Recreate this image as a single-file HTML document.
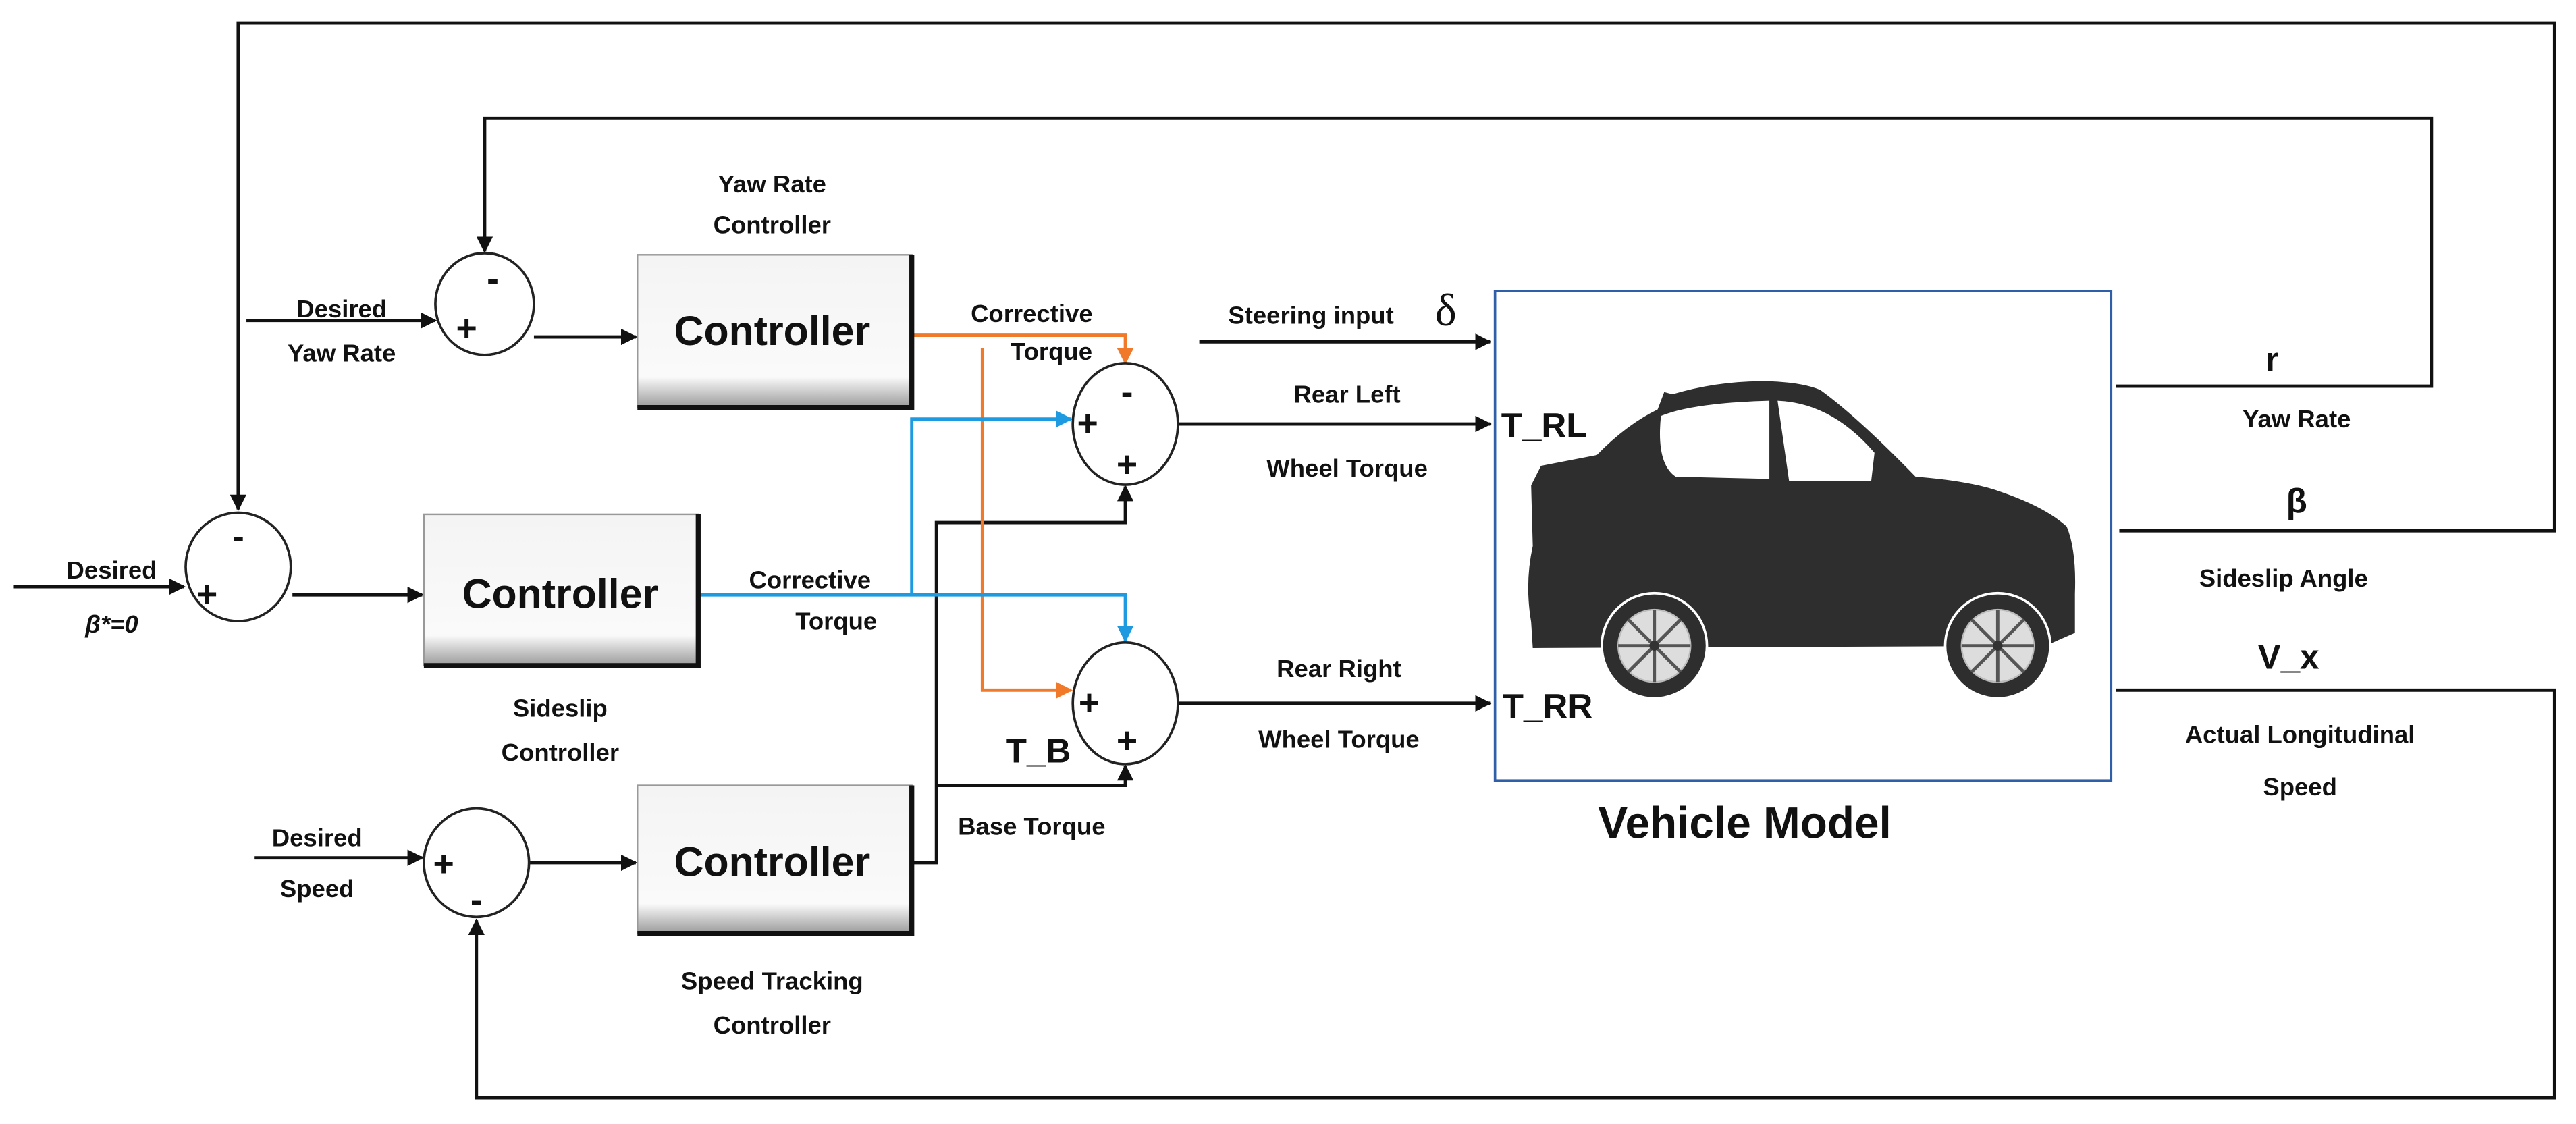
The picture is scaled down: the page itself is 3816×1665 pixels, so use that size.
<!DOCTYPE html>
<html><head><meta charset="utf-8"><style>
html,body{margin:0;padding:0;background:#fff;}
svg{display:block;}
text{font-family:"Liberation Sans",sans-serif;font-weight:bold;fill:#111;}
</style></head><body>
<svg width="3816" height="1665" viewBox="0 0 1568 684" preserveAspectRatio="none" xmlns="http://www.w3.org/2000/svg">
<defs>
<marker id="ak" markerWidth="10" markerHeight="10" refX="9" refY="5" orient="auto" markerUnits="userSpaceOnUse"><path d="M0,0 L10,5 L0,10 z" fill="#111"/></marker>
<marker id="ao" markerWidth="10" markerHeight="10" refX="9" refY="5" orient="auto" markerUnits="userSpaceOnUse"><path d="M0,0 L10,5 L0,10 z" fill="#f07a2a"/></marker>
<marker id="ab" markerWidth="10" markerHeight="10" refX="9" refY="5" orient="auto" markerUnits="userSpaceOnUse"><path d="M0,0 L10,5 L0,10 z" fill="#1e9be0"/></marker>
<linearGradient id="g" x1="0" y1="0" x2="0" y2="1"><stop offset="0" stop-color="#f4f4f4"/><stop offset="0.8" stop-color="#fafafa"/><stop offset="1" stop-color="#9a9a9a"/></linearGradient>
</defs>
<g fill="none" stroke="#111" stroke-width="2">
<polyline points="1290,323 1555,323 1555,14 145,14 145,310" marker-end="url(#ak)"/>
<polyline points="1288,235 1480,235 1480,72 295,72 295,153" marker-end="url(#ak)"/>
<polyline points="1288,420 1555,420 1555,668 290,668 290,560" marker-end="url(#ak)"/>
<line x1="150" y1="195" x2="265" y2="195" marker-end="url(#ak)"/>
<line x1="8" y1="357" x2="112" y2="357" marker-end="url(#ak)"/>
<line x1="155" y1="522" x2="257" y2="522" marker-end="url(#ak)"/>
<line x1="325" y1="205" x2="387" y2="205" marker-end="url(#ak)"/>
<line x1="178" y1="362" x2="257" y2="362" marker-end="url(#ak)"/>
<line x1="322" y1="525" x2="387" y2="525" marker-end="url(#ak)"/>
<polyline points="555,525 570,525 570,318 685,318 685,296" marker-end="url(#ak)"/>
<polyline points="570,478 685,478 685,466" marker-end="url(#ak)"/>
<line x1="717" y1="258" x2="907" y2="258" marker-end="url(#ak)"/>
<line x1="717" y1="428" x2="907" y2="428" marker-end="url(#ak)"/>
<line x1="730" y1="208" x2="907" y2="208" marker-end="url(#ak)"/>
</g>
<g fill="none" stroke="#f07a2a" stroke-width="2">
<polyline points="555,204 685,204 685,221" marker-end="url(#ao)"/>
<polyline points="598,212 598,420 652,420" marker-end="url(#ao)"/>
</g>
<g fill="none" stroke="#1e9be0" stroke-width="2">
<polyline points="425,362 685,362 685,390" marker-end="url(#ab)"/>
<polyline points="555,362 555,255 652,255" marker-end="url(#ab)"/>
</g>
<g fill="#fff" stroke="#222" stroke-width="1.5">
<ellipse cx="295" cy="185" rx="30" ry="31"/>
<ellipse cx="145" cy="345" rx="32" ry="33"/>
<ellipse cx="290" cy="525" rx="32" ry="33"/>
<ellipse cx="685" cy="258" rx="32" ry="37"/>
<ellipse cx="685" cy="428" rx="32" ry="37"/>
</g>
<g font-size="22" text-anchor="middle">
<text x="284" y="207">+</text><text x="300" y="177">-</text>
<text x="126" y="369">+</text><text x="145" y="334">-</text>
<text x="270" y="533">+</text><text x="290" y="555">-</text>
<text x="662" y="265">+</text><text x="686" y="246">-</text><text x="686" y="290">+</text>
<text x="663" y="435">+</text><text x="686" y="458">+</text>
</g>
<g>
<rect x="388" y="155" width="167" height="93" fill="url(#g)" stroke="#999" stroke-width="1"/>
<polyline points="555,155 555,248 388,248" fill="none" stroke="#111" stroke-width="3"/>
<rect x="258" y="313" width="167" height="92" fill="url(#g)" stroke="#999" stroke-width="1"/>
<polyline points="425,313 425,405 258,405" fill="none" stroke="#111" stroke-width="3"/>
<rect x="388" y="478" width="167" height="90" fill="url(#g)" stroke="#999" stroke-width="1"/>
<polyline points="555,478 555,568 388,568" fill="none" stroke="#111" stroke-width="3"/>
</g>
<g font-size="25" text-anchor="middle">
<text x="470" y="210">Controller</text>
<text x="341" y="370">Controller</text>
<text x="470" y="533">Controller</text>
</g>
<rect x="910" y="177" width="375" height="298" fill="#fff" stroke="#2e5fa8" stroke-width="1.5"/>
<g transform="translate(0,232) scale(1,1.32) translate(0,-252)">
<path fill="#2e2e2e" d="M938,291 L972,286 Q990,272 1009,265 L1013,257 L1018,258 Q1045,252 1072,252 Q1095,252 1108,256 Q1130,268 1166,296 Q1200,298 1218,303 Q1245,310 1258,319 Q1264,330 1263,350 L1263,368 L1245,374 L933,375 L932,363 Q928,345 933,328 L932,300 Z"/>
<path fill="#fff" d="M1011,268 Q1030,262 1077,261 L1077,297 L1020,296 Q1008,290 1011,268 Z"/>
<path fill="#fff" d="M1082,261 Q1115,262 1141,285 L1139,298 L1089,298 Z"/>
</g>
<g fill="#2e2e2e" stroke="#fff" stroke-width="1.5">
<circle cx="1007" cy="393" r="32"/>
<circle cx="1216" cy="393" r="32"/>
</g>
<g fill="#ddd" stroke="#bbb" stroke-width="1">
<circle cx="1007" cy="393" r="22"/>
<circle cx="1216" cy="393" r="22"/>
</g>
<g stroke="#555" stroke-width="2">
<path d="M1007,371 V415 M985,393 H1029 M991,377 L1023,409 M1023,377 L991,409"/>
<path d="M1216,371 V415 M1194,393 H1238 M1200,377 L1232,409 M1232,377 L1200,409"/>
</g>
<circle cx="1007" cy="393" r="3" fill="#333"/><circle cx="1216" cy="393" r="3" fill="#333"/>
<g font-size="15" text-anchor="middle">
<text x="470" y="117">Yaw Rate</text><text x="470" y="142">Controller</text>
<text x="208" y="193">Desired</text><text x="208" y="220">Yaw Rate</text>
<text x="68" y="352">Desired</text><text x="68" y="385" font-style="italic">β*=0</text>
<text x="341" y="436">Sideslip</text><text x="341" y="463">Controller</text>
<text x="193" y="515">Desired</text><text x="193" y="546">Speed</text>
<text x="470" y="602">Speed Tracking</text><text x="470" y="629">Controller</text>
<text x="628" y="196">Corrective</text><text x="640" y="219">Torque</text>
<text x="493" y="358">Corrective</text><text x="509" y="383">Torque</text>
<text x="820" y="245">Rear Left</text><text x="820" y="290">Wheel Torque</text>
<text x="815" y="412">Rear Right</text><text x="815" y="455">Wheel Torque</text>
<text x="628" y="508">Base Torque</text>
<text x="798" y="197">Steering  input</text>
<text x="1398" y="260">Yaw Rate</text>
<text x="1390" y="357">Sideslip Angle</text>
<text x="1400" y="452">Actual Longitudinal</text><text x="1400" y="484">Speed</text>
</g>
<text x="880" y="198" font-size="28" text-anchor="middle" style="font-weight:normal;font-family:'Liberation Serif',serif">δ</text>
<g font-size="21" text-anchor="middle">
<text x="632" y="464">T_B</text>
<text x="940" y="266">T_RL</text><text x="942" y="437">T_RR</text>
<text x="1383" y="226">r</text>
<text x="1398" y="312">β</text>
<text x="1393" y="407">V_x</text>
</g>
<text x="1062" y="510" font-size="27" text-anchor="middle">Vehicle Model</text>
</svg>
</body></html>
